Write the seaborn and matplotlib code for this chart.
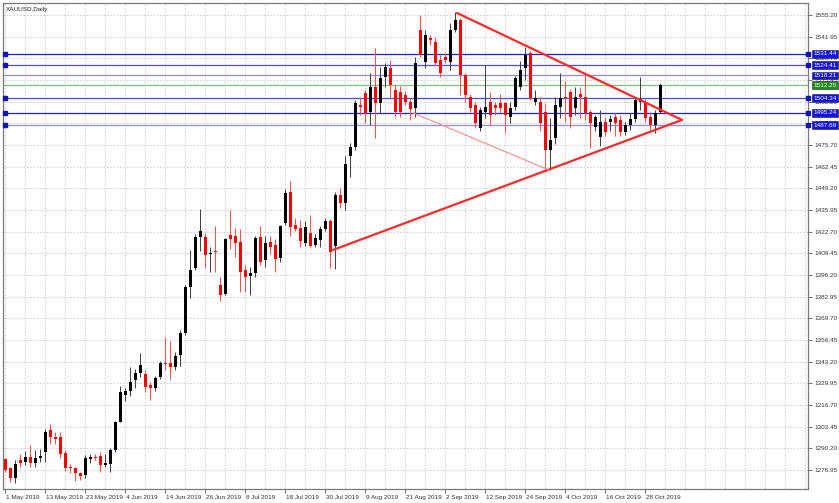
import numpy as np
import pandas as pd
import matplotlib
matplotlib.use("Agg")
import matplotlib.pyplot as plt
import matplotlib.transforms as mtransforms
import seaborn as sns

# XAUUSD daily candles, 1 May 2019 .. 31 Oct 2019
opens = [1283.6, 1278.0, 1271.8, 1283.0, 1282.1, 1284.9, 1281.2, 1284.0, 1287.9, 1301.4,
         1297.3, 1297.0, 1287.3, 1278.7, 1278.0, 1275.1, 1274.1, 1283.7, 1285.0, 1285.5,
         1280.2, 1280.6, 1288.9, 1306.4, 1322.8, 1325.2, 1332.0, 1336.2, 1335.6, 1329.0,
         1327.1, 1333.8, 1342.4, 1342.4, 1340.0, 1347.2, 1360.7, 1388.8, 1400.5, 1419.4,
         1419.4, 1409.0, 1410.8, 1390.0, 1384.6, 1420.6, 1420.0, 1416.4, 1399.2, 1395.6,
         1397.4, 1419.4, 1405.3, 1416.4, 1414.5, 1406.5, 1428.0, 1447.0, 1426.8, 1424.9,
         1415.6, 1421.8, 1414.5, 1417.8, 1424.3, 1429.0, 1413.9, 1445.1, 1440.4, 1469.1,
         1474.7, 1500.2, 1507.3, 1496.1, 1511.4, 1501.2, 1517.5, 1522.6, 1509.3, 1508.3,
         1506.3, 1502.2, 1498.1, 1546.0, 1526.6, 1540.9, 1538.9, 1527.7, 1529.7, 1526.6,
         1546.0, 1552.1, 1518.5, 1505.2, 1500.2, 1485.9, 1496.1, 1502.2, 1500.2, 1501.2,
         1501.2, 1493.0, 1499.1, 1511.4, 1522.6, 1531.8, 1502.2, 1502.2, 1496.1, 1472.6,
         1479.8, 1499.1, 1505.2, 1508.3, 1498.1, 1506.9, 1505.2, 1496.1, 1486.9, 1480.8,
         1490.0, 1490.0, 1492.6, 1491.0, 1483.8, 1487.9, 1491.4, 1502.2, 1502.2, 1493.0,
         1487.9, 1496.0]
highs = [1284.5, 1279.0, 1283.0, 1287.0, 1288.6, 1292.2, 1289.0, 1289.5, 1301.9, 1304.8,
         1300.0, 1300.0, 1288.9, 1280.3, 1279.0, 1276.0, 1286.0, 1286.7, 1286.7, 1287.9,
         1287.0, 1290.3, 1307.0, 1328.0, 1327.0, 1340.2, 1338.5, 1348.6, 1337.9, 1331.0,
         1334.2, 1343.6, 1358.3, 1356.0, 1349.0, 1362.6, 1390.2, 1411.4, 1421.0, 1436.6,
         1421.6, 1413.0, 1426.0, 1395.0, 1419.0, 1436.0, 1425.0, 1424.0, 1402.0, 1401.0,
         1420.0, 1426.4, 1420.0, 1420.0, 1418.0, 1427.0, 1449.0, 1453.6, 1431.0, 1430.0,
         1429.0, 1433.0, 1421.0, 1426.0, 1431.0, 1430.7, 1446.8, 1449.5, 1469.0, 1476.7,
         1503.2, 1505.0, 1509.3, 1519.5, 1534.8, 1523.6, 1525.7, 1527.7, 1512.4, 1511.5,
         1508.4, 1504.7, 1529.7, 1555.2, 1546.0, 1543.0, 1541.9, 1530.7, 1532.0, 1550.1,
         1557.2, 1553.2, 1519.5, 1507.0, 1502.0, 1499.0, 1524.6, 1508.0, 1502.0, 1507.0,
         1502.0, 1502.0, 1518.0, 1527.0, 1535.8, 1533.0, 1509.3, 1505.0, 1501.2, 1492.0,
         1505.0, 1519.5, 1515.0, 1510.0, 1511.0, 1511.0, 1518.5, 1497.0, 1494.0, 1497.0,
         1493.0, 1494.0, 1495.0, 1494.0, 1490.0, 1495.0, 1505.0, 1517.5, 1504.0, 1496.0,
         1497.0, 1513.4]
lows = [1276.0, 1269.7, 1269.0, 1279.0, 1280.0, 1279.0, 1279.0, 1282.0, 1282.0, 1293.0,
        1293.0, 1284.0, 1276.4, 1274.9, 1269.9, 1271.0, 1272.0, 1281.0, 1283.0, 1276.0,
        1279.0, 1276.0, 1288.0, 1306.0, 1319.0, 1322.0, 1327.0, 1334.0, 1324.6, 1320.0,
        1325.0, 1332.5, 1338.3, 1332.5, 1338.3, 1340.7, 1359.7, 1382.0, 1399.0, 1411.0,
        1400.5, 1398.0, 1398.0, 1380.0, 1384.0, 1412.0, 1407.0, 1386.0, 1386.0, 1384.0,
        1395.0, 1402.0, 1401.0, 1409.0, 1398.0, 1404.0, 1427.0, 1420.0, 1423.0, 1413.0,
        1414.0, 1413.0, 1413.0, 1413.0, 1423.0, 1400.3, 1400.0, 1437.0, 1436.0, 1456.3,
        1472.6, 1494.0, 1489.1, 1487.9, 1479.8, 1495.1, 1511.4, 1504.3, 1493.0, 1493.0,
        1500.0, 1491.0, 1493.0, 1529.7, 1523.0, 1537.0, 1524.6, 1517.5, 1526.0, 1521.6,
        1545.0, 1506.3, 1502.2, 1496.0, 1486.0, 1484.0, 1492.0, 1488.0, 1494.0, 1495.0,
        1482.8, 1489.0, 1497.0, 1509.0, 1515.4, 1503.0, 1500.0, 1484.0, 1459.4, 1460.4,
        1476.0, 1492.0, 1490.0, 1486.0, 1494.0, 1492.0, 1491.0, 1473.6, 1484.0, 1475.0,
        1481.0, 1484.0, 1481.0, 1481.0, 1482.0, 1485.0, 1490.0, 1497.1, 1490.0, 1485.0,
        1483.0, 1495.1]
closes = [1276.9, 1271.8, 1280.6, 1281.0, 1285.0, 1281.2, 1284.2, 1285.5, 1300.2, 1297.2,
          1296.0, 1286.7, 1278.0, 1278.0, 1275.0, 1273.3, 1284.2, 1285.0, 1284.4, 1280.0,
          1281.5, 1289.0, 1306.3, 1324.8, 1325.2, 1330.7, 1336.2, 1341.1, 1327.7, 1327.1,
          1333.2, 1342.4, 1341.8, 1340.0, 1346.6, 1360.7, 1388.8, 1399.2, 1419.4, 1423.0,
          1408.4, 1409.6, 1410.2, 1384.0, 1418.2, 1418.2, 1415.7, 1398.0, 1394.9, 1397.4,
          1418.8, 1404.0, 1415.7, 1413.3, 1406.0, 1426.1, 1446.3, 1425.5, 1424.3, 1417.0,
          1425.5, 1413.9, 1418.8, 1424.3, 1429.0, 1410.2, 1445.1, 1440.2, 1463.9, 1474.3,
          1501.2, 1499.1, 1495.1, 1511.4, 1501.2, 1516.5, 1523.2, 1512.4, 1496.1, 1496.1,
          1502.2, 1497.5, 1525.7, 1530.7, 1543.0, 1539.9, 1525.7, 1519.5, 1527.7, 1546.0,
          1552.1, 1518.5, 1506.3, 1498.1, 1489.0, 1497.1, 1499.1, 1494.0, 1498.1, 1498.1,
          1494.0, 1498.1, 1516.5, 1521.6, 1530.7, 1504.3, 1504.3, 1488.9, 1472.6, 1478.7,
          1500.2, 1504.2, 1504.2, 1493.0, 1505.2, 1505.2, 1495.1, 1488.9, 1492.6, 1490.0,
          1483.8, 1491.4, 1489.0, 1483.8, 1487.9, 1491.4, 1503.2, 1503.6, 1492.0, 1487.9,
          1495.1, 1512.25]

date_labels = ["1 May 2019", "13 May 2019", "23 May 2019", "4 Jun 2019", "14 Jun 2019",
               "26 Jun 2019", "8 Jul 2019", "18 Jul 2019", "30 Jul 2019", "9 Aug 2019",
               "21 Aug 2019", "2 Sep 2019", "12 Sep 2019", "24 Sep 2019", "4 Oct 2019",
               "16 Oct 2019", "28 Oct 2019"]

price_ticks = [1276.95, 1290.20, 1303.45, 1316.70, 1329.95, 1343.20, 1356.45, 1369.70,
               1382.95, 1396.20, 1409.45, 1422.70, 1435.95, 1449.20, 1462.45, 1475.70,
               1488.95, 1502.20, 1515.45, 1528.70, 1541.95, 1555.20]

levels = [1531.44, 1524.41, 1518.21, 1512.25, 1504.34, 1495.24, 1487.69]
level_colors = ["#1f1fe6", "#4b4bee", "#8c8cf4", "#7fbf7f", "#4b4bee", "#1f1fe6", "#8c8cf4"]
level_box = ["#1414e6", "#1414e6", "#1414e6", "#1e8c1e", "#1414e6", "#1414e6", "#1414e6"]
level_marks = [True, True, False, False, True, True, True]

# triangle drawn on the chart (bar index, price)
upper_x = [90.4, 135.4]
upper_y = [1556.4, 1491.0]
lower_x = [65.6, 135.4]
lower_y = [1411.5, 1491.0]
inner_x = [81.6, 109.2]
inner_y = [1495.3, 1459.8]

dates = pd.bdate_range("2019-05-01", periods=len(closes))
df = pd.DataFrame({"date": dates, "open": opens, "high": highs, "low": lows, "close": closes})
df["idx"] = np.arange(len(df))
df["label"] = [f"{d.day} {d.strftime('%b %Y')}" for d in dates]

sns.set_style("white")
plt.rcParams["font.family"] = ["Liberation Sans", "DejaVu Sans"]
FS = 4.6

fig = plt.figure(figsize=(8.39, 5.03), dpi=100)
ax = fig.add_axes([3 / 839, 14 / 503, 805 / 839, 486 / 503])
ax.set_xlim(-0.4, 160.6)
ax.set_ylim(1265.3, 1562.5)

# grid
grid_kw = dict(color="#c9c9c9", lw=0.6, ls=(0, (2, 2)), zorder=0)
for p in price_ticks:
    ax.axhline(p, **grid_kw)
for gx in np.arange(0, 161, 4):
    ax.axvline(gx, **grid_kw)

# candles
up = df["close"] >= df["open"]
wick_col = np.where(up, "#444444", "#ff5050")
ax.vlines(df["idx"], df["low"], df["high"], colors=wick_col, lw=0.75, zorder=2)
body_bottom = np.minimum(df["open"], df["close"])
body_h = np.maximum(np.abs(df["close"] - df["open"]), 0.7)
ax.bar(df["idx"], body_h, bottom=body_bottom, width=0.6,
       color=np.where(up, "#000000", "#ff0000"), linewidth=0, zorder=3)

# horizontal levels
trans = mtransforms.blended_transform_factory(ax.transAxes, ax.transData)
for lv, c, bc, mk in zip(levels, level_colors, level_box, level_marks):
    ax.axhline(lv, color=c, lw=0.9, zorder=1)
    if mk:
        ax.plot([0.003, 1.0], [lv, lv], ls="none", marker="s", ms=2.6,
                color="#1414b4", transform=trans, clip_on=False, zorder=5)
    ax.text(1.0065, lv, f"{lv:.2f}", transform=trans, fontsize=FS, color="white",
            va="center", ha="left", clip_on=False, zorder=6,
            bbox=dict(boxstyle="square,pad=0.22", fc=bc, ec="#202020", lw=0.4))

# triangle
tri = pd.DataFrame({"x": upper_x + lower_x, "y": upper_y + lower_y,
                    "side": ["upper"] * 2 + ["lower"] * 2})
sns.lineplot(data=tri, x="x", y="y", units="side", estimator=None, color="#ff2a2a",
             lw=1.6, ax=ax, zorder=4)
ax.plot(inner_x, inner_y, color="#ff8a8a", lw=0.8, zorder=4)

# axes look
for s in ax.spines.values():
    s.set_color("#7a7a7a")
    s.set_linewidth(0.9)
ax.set_xlabel("")
ax.set_ylabel("")
ax.yaxis.tick_right()
ax.set_yticks(price_ticks)
ax.set_yticklabels([f"{p:.2f}" for p in price_ticks])
ax.tick_params(axis="y", right=True, length=3, width=0.6, color="#555555",
               labelsize=FS, pad=1.5, labelcolor="#333333")
tick_idx = [int(df.index[df["label"] == lab][0]) for lab in date_labels]
ax.set_xticks(tick_idx)
ax.set_xticklabels(date_labels, ha="left")
ax.tick_params(axis="x", bottom=True, length=3, width=0.6, color="#555555",
               labelsize=FS, pad=1.5, labelcolor="#333333")
for t in ax.get_xticklabels():
    t.set_transform(t.get_transform() + mtransforms.ScaledTranslation(1 / 100, 0, fig.dpi_scale_trans))

ax.text(0.003, 0.992, "XAUUSD,Daily", transform=ax.transAxes, fontsize=FS,
        color="#222222", va="top", ha="left")

fig.savefig("out.png", dpi=100, facecolor="white")
